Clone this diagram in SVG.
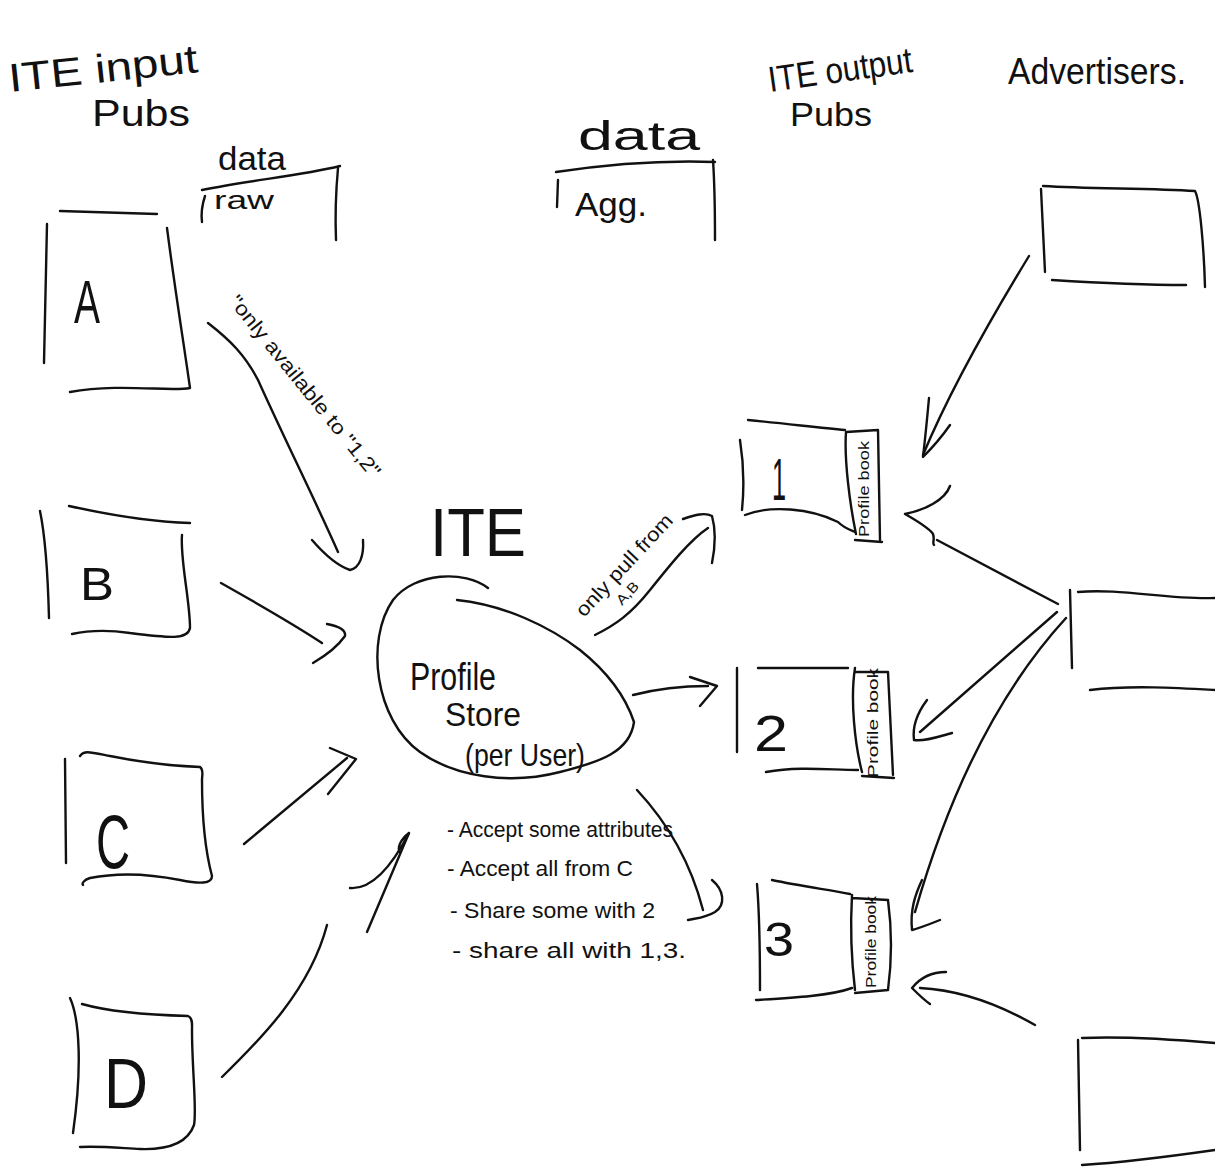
<svg xmlns="http://www.w3.org/2000/svg" width="1215" height="1172" viewBox="0 0 1215 1172">
<style>
  .s { fill: none; stroke: #111; stroke-width: 2.4; stroke-linecap: round; stroke-linejoin: round; }
  .t { font-family: "Liberation Sans", "DejaVu Sans", sans-serif; fill: #111; }
</style>
<rect width="1215" height="1172" fill="#fff"/>

<g id="headers">
  <text class="t" x="10" y="92" font-size="40" textLength="190" lengthAdjust="spacingAndGlyphs" transform="rotate(-6 10 92)">ITE input</text>
  <text class="t" x="92" y="126" font-size="36" textLength="98" lengthAdjust="spacingAndGlyphs">Pubs</text>
  <text class="t" x="770" y="92" font-size="36" textLength="145" lengthAdjust="spacingAndGlyphs" transform="rotate(-8 770 92)">ITE output</text>
  <text class="t" x="790" y="126" font-size="34" textLength="82" lengthAdjust="spacingAndGlyphs">Pubs</text>
  <text class="t" x="1008" y="84" font-size="36" textLength="178" lengthAdjust="spacingAndGlyphs">Advertisers.</text>
</g>

<g id="data-raw">
  <text class="t" x="218" y="170" font-size="34" textLength="68" lengthAdjust="spacingAndGlyphs">data</text>
  <path class="s" d="M202,190 C250,180 300,176 340,166"/>
  <path class="s" d="M205,196 C202,205 201,214 202,222"/>
  <path class="s" d="M338,168 C336,190 335,215 336,240"/>
  <text class="t" x="214" y="209" font-size="26" textLength="60" lengthAdjust="spacingAndGlyphs">raw</text>
</g>

<g id="data-agg">
  <text class="t" x="578" y="150" font-size="40" textLength="122" lengthAdjust="spacingAndGlyphs">data</text>
  <path class="s" d="M556,172 C610,164 660,160 715,162"/>
  <path class="s" d="M558,180 L557,207"/>
  <path class="s" d="M713,160 C715,190 715,215 715,240"/>
  <text class="t" x="575" y="216" font-size="34" textLength="72" lengthAdjust="spacingAndGlyphs">Agg.</text>
</g>

<g id="input-A">
  <path class="s" d="M60,211 L157,214"/>
  <path class="s" d="M47,224 L44,363"/>
  <path class="s" d="M167,228 C175,290 184,345 190,388 C170,392 120,383 70,392"/>
  <text class="t" x="74" y="323" font-size="62" textLength="26" lengthAdjust="spacingAndGlyphs">A</text>
</g>

<g id="input-B">
  <path class="s" d="M69,506 C110,515 150,522 190,523"/>
  <path class="s" d="M40,511 C46,540 48,580 49,618"/>
  <path class="s" d="M182,535 C180,560 190,600 190,628 C188,640 170,638 130,633 C110,630 90,630 72,634"/>
  <text class="t" x="80" y="600" font-size="46" textLength="34" lengthAdjust="spacingAndGlyphs">B</text>
</g>

<g id="input-C">
  <path class="s" d="M65,759 L66,863"/>
  <path class="s" d="M80,756 C84,750 90,752 110,756 C140,762 170,766 200,767 C204,770 202,775 202,780 C202,820 205,850 212,876 C212,884 200,884 180,880 C150,874 120,872 90,878 C83,880 82,884 83,885"/>
  <text class="t" x="96" y="868" font-size="76" textLength="34" lengthAdjust="spacingAndGlyphs">C</text>
</g>

<g id="input-D">
  <path class="s" d="M70,998 C80,1020 82,1070 73,1133"/>
  <path class="s" d="M82,1004 C110,1012 150,1015 188,1016 C193,1018 192,1025 192,1030 C192,1070 197,1110 194,1125 C188,1142 170,1150 140,1149 C120,1148 100,1146 80,1147"/>
  <text class="t" x="104" y="1108" font-size="70" textLength="44" lengthAdjust="spacingAndGlyphs">D</text>
</g>

<g id="ite">
  <text class="t" x="430" y="556" font-size="68" textLength="96" lengthAdjust="spacingAndGlyphs">ITE</text>
  <path class="s" d="M488,588 C465,570 415,572 393,600 C365,640 375,720 420,752 C455,777 510,785 560,772 C600,762 630,752 634,722 C625,695 605,670 580,650 C550,627 505,605 457,600"/>
  <text class="t" x="410" y="690" font-size="38" textLength="86" lengthAdjust="spacingAndGlyphs">Profile</text>
  <text class="t" x="445" y="726" font-size="34" textLength="76" lengthAdjust="spacingAndGlyphs">Store</text>
  <text class="t" x="465" y="766" font-size="32" textLength="120" lengthAdjust="spacingAndGlyphs">(per User)</text>
</g>

<g id="rules">
  <text class="t" x="447" y="837" font-size="22" textLength="226" lengthAdjust="spacingAndGlyphs">- Accept some attributes</text>
  <text class="t" x="447" y="876" font-size="22" textLength="186" lengthAdjust="spacingAndGlyphs">- Accept all from C</text>
  <text class="t" x="450" y="918" font-size="22" textLength="205" lengthAdjust="spacingAndGlyphs">- Share some with 2</text>
  <text class="t" x="452" y="958" font-size="22" textLength="234" lengthAdjust="spacingAndGlyphs">- share all with 1,3.</text>
</g>

<g id="output-1">
  <path class="s" d="M740,440 C744,465 744,490 742,510"/>
  <path class="s" d="M748,420 C790,424 820,428 845,430"/>
  <path class="s" d="M745,515 C770,505 810,508 838,522 C844,528 850,530 855,532"/>
  <path class="s" d="M846,432 C844,460 850,505 856,534 M846,432 L878,430 L880,540 M855,540 L882,542"/>
  <text class="t" x="772" y="500" font-size="60" textLength="14" lengthAdjust="spacingAndGlyphs">1</text>
  <text class="t" x="0" y="0" font-size="15" textLength="96" lengthAdjust="spacingAndGlyphs" transform="translate(869 537) rotate(-90)">Profile book</text>
</g>

<g id="output-2">
  <path class="s" d="M737,668 L737,752"/>
  <path class="s" d="M758,668 L848,668"/>
  <path class="s" d="M766,772 C800,766 830,770 858,770"/>
  <path class="s" d="M855,668 C850,700 855,745 862,772 M855,672 L888,672 L893,775 M862,776 L894,778"/>
  <text class="t" x="754" y="751" font-size="50" textLength="34" lengthAdjust="spacingAndGlyphs">2</text>
  <text class="t" x="0" y="0" font-size="15" textLength="110" lengthAdjust="spacingAndGlyphs" transform="translate(878 778) rotate(-90)">Profile book</text>
</g>

<g id="output-3">
  <path class="s" d="M757,884 C760,920 760,960 760,990"/>
  <path class="s" d="M772,880 C800,886 830,890 850,894"/>
  <path class="s" d="M756,1000 C790,998 830,996 852,988"/>
  <path class="s" d="M852,895 C850,930 852,965 855,990 M852,898 L888,900 C892,930 892,960 888,990 L855,993"/>
  <text class="t" x="764" y="956" font-size="48" textLength="30" lengthAdjust="spacingAndGlyphs">3</text>
  <text class="t" x="0" y="0" font-size="15" textLength="92" lengthAdjust="spacingAndGlyphs" transform="translate(876 988) rotate(-90)">Profile book</text>
</g>

<g id="advertiser-1">
  <path class="s" d="M1041,189 L1045,272"/>
  <path class="s" d="M1043,186 C1090,189 1150,188 1195,191 C1200,200 1204,250 1205,287"/>
  <path class="s" d="M1052,280 C1100,283 1150,285 1186,285"/>
</g>

<g id="advertiser-2">
  <path class="s" d="M1070,590 L1072,668"/>
  <path class="s" d="M1078,592 C1120,588 1170,600 1215,598"/>
  <path class="s" d="M1090,690 C1130,685 1180,688 1215,690"/>
</g>

<g id="advertiser-3">
  <path class="s" d="M1078,1040 L1080,1150"/>
  <path class="s" d="M1082,1038 C1130,1036 1180,1040 1215,1043"/>
  <path class="s" d="M1082,1165 C1130,1162 1180,1155 1215,1150"/>
</g>

<g id="connectors">
  <!-- A to ITE -->
  <path class="s" d="M208,323 C230,340 245,355 258,380 C285,440 315,500 338,552"/>
  <path class="s" d="M312,540 C325,555 338,566 350,570 C360,568 364,555 363,540"/>
  <text class="t" x="0" y="0" font-size="20" textLength="228" lengthAdjust="spacingAndGlyphs" transform="translate(228 302) rotate(51)">"only available to "1,2"</text>
  <!-- B to ITE -->
  <path class="s" d="M221,583 C260,605 295,625 322,643"/>
  <path class="s" d="M327,624 C338,626 346,630 345,636 C338,646 325,656 313,663"/>
  <!-- C to ITE -->
  <path class="s" d="M244,844 L347,758"/>
  <path class="s" d="M330,748 L356,759 L328,794"/>
  <!-- D to ITE -->
  <path class="s" d="M222,1077 C260,1040 310,990 327,925"/>
  <path class="s" d="M367,932 L409,833"/>
  <path class="s" d="M350,888 C375,890 395,860 409,833 C400,840 397,848 400,852"/>
  <!-- ITE to 1 -->
  <path class="s" d="M595,635 C615,625 630,615 650,590 C670,565 690,540 708,528"/>
  <path class="s" d="M683,519 C695,515 705,512 712,516 C716,530 715,548 712,563"/>
  <text class="t" x="0" y="0" font-size="20" textLength="132" lengthAdjust="spacingAndGlyphs" transform="translate(584 618) rotate(-47)">only pull from</text>
  <text class="t" x="0" y="0" font-size="14" textLength="26" lengthAdjust="spacingAndGlyphs" transform="translate(622 606) rotate(-47)">A,B</text>
  <!-- ITE to 2 -->
  <path class="s" d="M633,695 C660,688 685,686 708,686"/>
  <path class="s" d="M690,677 L717,686 L700,706"/>
  <!-- ITE to 3 -->
  <path class="s" d="M637,790 C665,820 690,860 703,910"/>
  <path class="s" d="M712,880 C724,890 726,905 715,912 C705,918 697,918 688,920"/>
  <!-- Advertiser 1 to output 1 -->
  <path class="s" d="M1029,256 C990,320 950,390 923,455"/>
  <path class="s" d="M929,398 C927,420 925,440 923,457 C935,445 943,435 950,425"/>
  <!-- Advertiser 2 to output 1 -->
  <path class="s" d="M950,486 C945,500 925,510 905,514 C915,520 928,527 933,534 C935,540 932,543 934,545"/>
  <path class="s" d="M937,540 L1058,604"/>
  <!-- Advertiser 2 to output 2 -->
  <path class="s" d="M1057,612 L920,732"/>
  <path class="s" d="M927,700 C918,712 912,725 914,740 C925,742 940,736 952,733"/>
  <!-- Advertiser 2 to output 3 -->
  <path class="s" d="M1066,618 C1000,690 950,790 915,912"/>
  <path class="s" d="M922,880 C915,895 910,910 912,930 C920,928 930,924 940,920"/>
  <!-- Advertiser 3 to output 3 -->
  <path class="s" d="M1035,1025 C1000,1005 960,990 920,988"/>
  <path class="s" d="M946,972 C932,972 920,978 912,988 C918,994 924,1000 930,1004"/>
</g>
</svg>
